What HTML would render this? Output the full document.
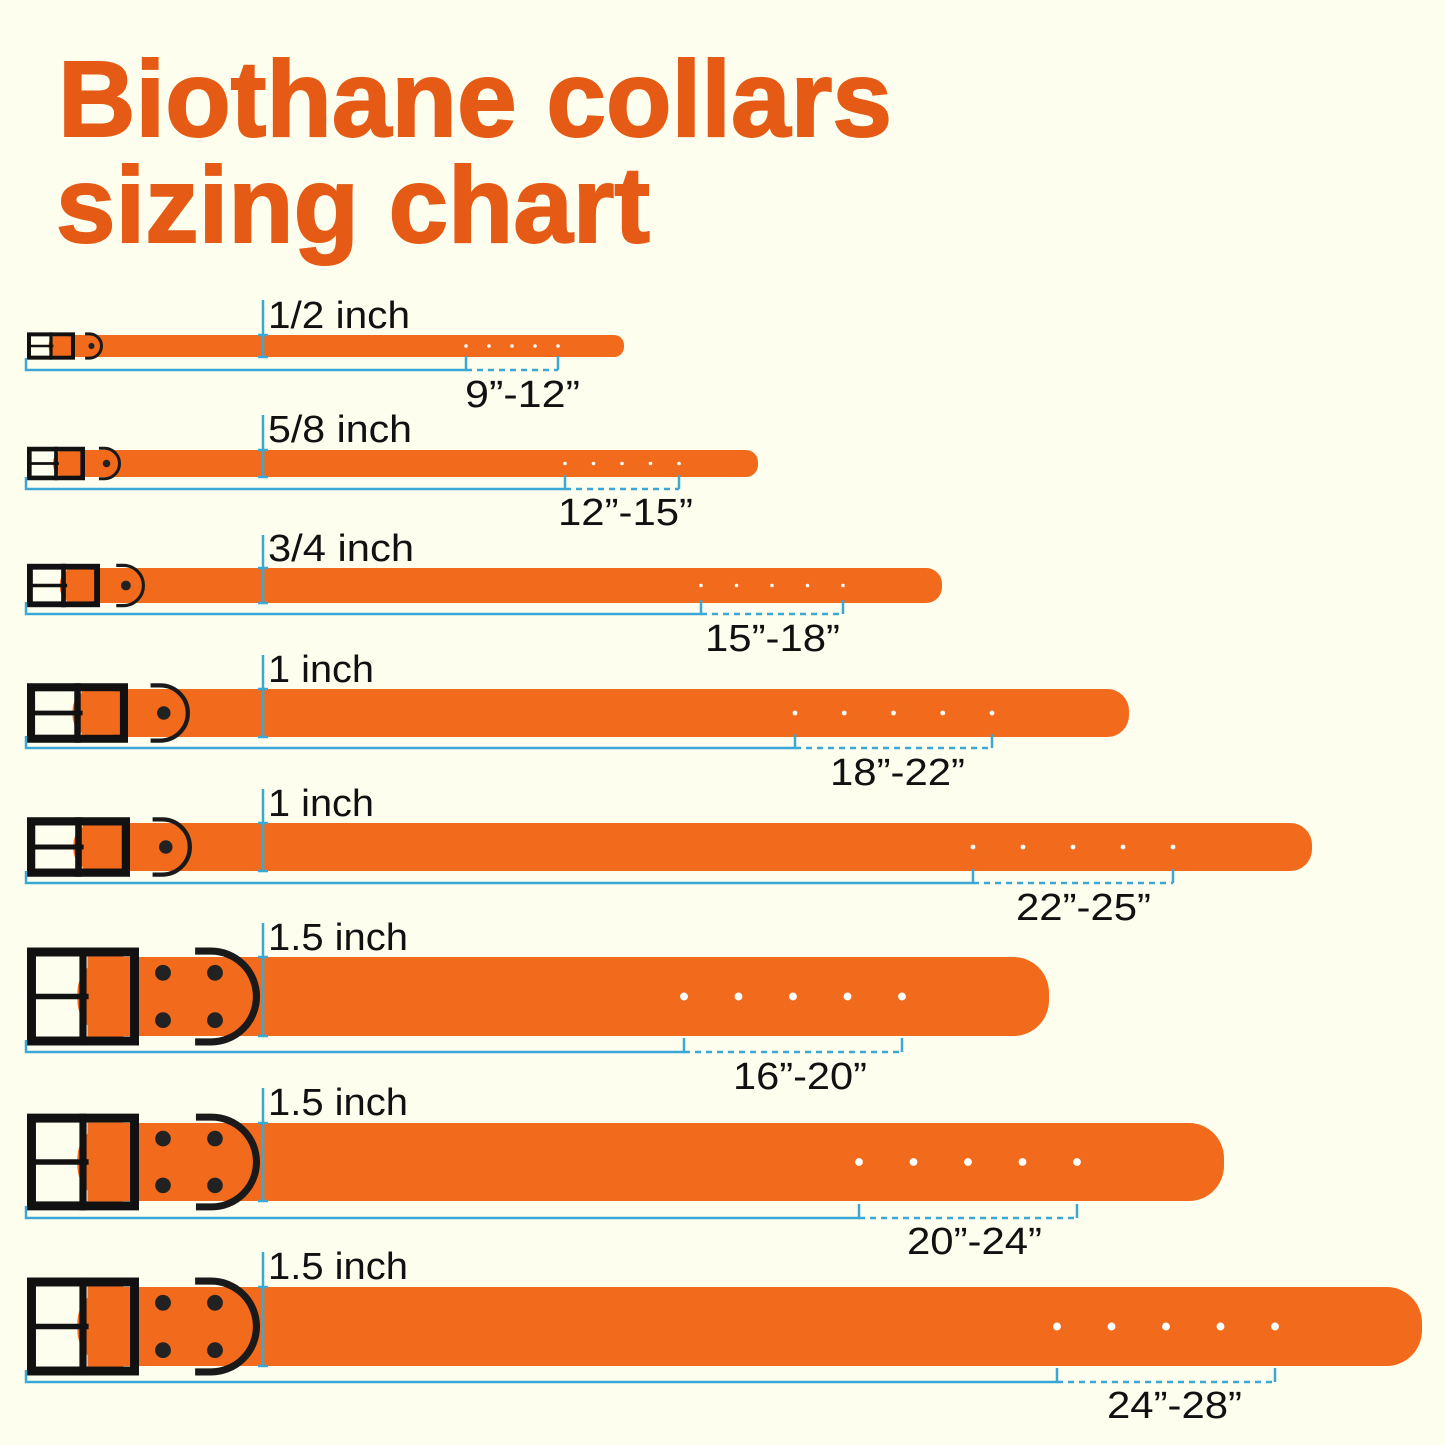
<!DOCTYPE html>
<html><head><meta charset="utf-8"><style>
html,body{margin:0;padding:0;background:#fdfeee;}
svg{display:block}
text{font-family:"Liberation Sans",sans-serif;}
</style></head><body>
<svg id="s" width="1445" height="1445" viewBox="0 0 1445 1445" xmlns="http://www.w3.org/2000/svg">
<rect width="1445" height="1445" fill="#fdfeee"/>
<g id="shapes"></g>
<g fill="#e55a15" font-weight="bold" font-size="108" stroke="#e55a15" stroke-width="2">
<text x="58" y="136" textLength="834" lengthAdjust="spacingAndGlyphs">Biothane collars</text>
<text x="56" y="242" textLength="594" lengthAdjust="spacingAndGlyphs">sizing chart</text>
</g>
<g fill="#111" font-size="38" lengthAdjust="spacingAndGlyphs">
<text x="268" y="328" textLength="142" lengthAdjust="spacingAndGlyphs">1/2 inch</text>
<text x="268" y="442" textLength="144" lengthAdjust="spacingAndGlyphs">5/8 inch</text>
<text x="268" y="561" textLength="146" lengthAdjust="spacingAndGlyphs">3/4 inch</text>
<text x="268" y="682" textLength="106" lengthAdjust="spacingAndGlyphs">1 inch</text>
<text x="268" y="816" textLength="106" lengthAdjust="spacingAndGlyphs">1 inch</text>
<text x="268" y="950" textLength="140" lengthAdjust="spacingAndGlyphs">1.5 inch</text>
<text x="268" y="1115" textLength="140" lengthAdjust="spacingAndGlyphs">1.5 inch</text>
<text x="268" y="1279" textLength="140" lengthAdjust="spacingAndGlyphs">1.5 inch</text>
</g>
<g fill="#111" font-size="38">
<text x="465" y="407" textLength="115" lengthAdjust="spacingAndGlyphs">9”-12”</text>
<text x="558" y="525" textLength="135" lengthAdjust="spacingAndGlyphs">12”-15”</text>
<text x="705" y="651" textLength="135" lengthAdjust="spacingAndGlyphs">15”-18”</text>
<text x="830" y="785" textLength="135" lengthAdjust="spacingAndGlyphs">18”-22”</text>
<text x="1016" y="920" textLength="135" lengthAdjust="spacingAndGlyphs">22”-25”</text>
<text x="733" y="1089" textLength="134" lengthAdjust="spacingAndGlyphs">16”-20”</text>
<text x="907" y="1254" textLength="135" lengthAdjust="spacingAndGlyphs">20”-24”</text>
<text x="1107" y="1418" textLength="135" lengthAdjust="spacingAndGlyphs">24”-28”</text>
</g>
</svg>
<script>
var C=[
 {t:335,b:357,e:624,bw:48,h0:466,h1:558,br:370,ly:300,rv:0,re:103},
 {t:450,b:477,e:758,bw:58,h0:565,h1:679,br:489,ly:415,rv:0,re:121},
 {t:568,b:603,e:942,bw:73,h0:701,h1:843,br:614,ly:535,rv:0,re:145},
 {t:689,b:737,e:1129,bw:101,h0:795,h1:992,br:748,ly:655,rv:0,re:190},
 {t:823,b:871,e:1312,bw:103,h0:973,h1:1173,br:883,ly:789,rv:0,re:192},
 {t:957,b:1036,e:1049,bw:112,h0:684,h1:902,br:1052,ly:923,rv:1,re:260},
 {t:1123,b:1201,e:1224,bw:112,h0:859,h1:1077,br:1218,ly:1088,rv:1,re:260},
 {t:1287,b:1366,e:1422,bw:112,h0:1057,h1:1275,br:1382,ly:1252,rv:1,re:260}
];
var g=document.getElementById('shapes'),h='';
var B='#3aa7d4',O='#f26a1c';
C.forEach(function(c){
 var hgt=c.b-c.t,r=hgt/2,pad=hgt*0.12,bt=c.t-pad,bb=c.b+pad,bx=27,bw=c.bw,cy=(c.t+c.b)/2;
 var sw=Math.max(3,hgt*0.09);
 h+='<rect x="'+(bx+bw*0.45)+'" y="'+c.t+'" width="'+(c.e-bx-bw*0.45)+'" height="'+hgt+'" rx="'+r*0.9+'" fill="'+O+'"/>';
 // D ring
 var R=(bb-bt)/2-sw/2, xs=c.re-sw/2-R;
 h+='<path d="M'+(xs-R*0.35)+' '+(cy-R)+' L'+xs+' '+(cy-R)+' A '+R+' '+R+' 0 0 1 '+xs+' '+(cy+R)+' L'+(xs-R*0.35)+' '+(cy+R)+'" fill="none" stroke="#1a1a1a" stroke-width="'+sw+'"/>';
 if(c.rv){[163,215].forEach(function(x){[0.2,0.8].forEach(function(v){h+='<circle cx="'+x+'" cy="'+(c.t+hgt*v)+'" r="'+(hgt*0.1)+'" fill="#222"/>';});});}
 else h+='<circle cx="'+(c.re-R*0.95)+'" cy="'+cy+'" r="'+(hgt*0.14)+'" fill="#222"/>';
 // buckle
 var fw=Math.max(4,bw*0.08);
 h+='<rect x="'+(bx+fw/2)+'" y="'+(bt+fw/2)+'" width="'+(bw-fw)+'" height="'+(bb-bt-fw)+'" fill="none" stroke="#111" stroke-width="'+fw+'"/>';
 h+='<line x1="'+(bx+bw*0.5)+'" y1="'+bt+'" x2="'+(bx+bw*0.5)+'" y2="'+bb+'" stroke="#111" stroke-width="'+(fw*0.8)+'"/>';
 h+='<rect x="'+(bx+bw*0.54)+'" y="'+(bt+fw)+'" width="'+(bw*0.32)+'" height="'+(bb-bt-2*fw)+'" fill="'+O+'"/>';
 h+='<line x1="'+bx+'" y1="'+cy+'" x2="'+(bx+bw*0.55)+'" y2="'+cy+'" stroke="#111" stroke-width="'+(fw*0.6)+'"/>';
 for(var i=0;i<5;i++){var x=c.h0+(c.h1-c.h0)*i/4;h+='<circle cx="'+x+'" cy="'+cy+'" r="'+Math.max(1.8,hgt*0.05)+'" fill="#fff"/>';}
 h+='<line x1="263" y1="'+c.ly+'" x2="263" y2="'+c.b+'" stroke="'+B+'" stroke-width="2.5"/>';
 h+='<line x1="258" y1="'+c.t+'" x2="268" y2="'+c.t+'" stroke="'+B+'" stroke-width="2.5"/><line x1="258" y1="'+c.b+'" x2="268" y2="'+c.b+'" stroke="'+B+'" stroke-width="2.5"/>';
 h+='<polyline points="26,'+(c.br-12)+' 26,'+c.br+' '+c.h0+','+c.br+' '+c.h0+','+(c.br-14)+'" fill="none" stroke="'+B+'" stroke-width="2.5"/>';
 h+='<line x1="'+c.h0+'" y1="'+c.br+'" x2="'+c.h1+'" y2="'+c.br+'" stroke="'+B+'" stroke-width="2.5" stroke-dasharray="6,5"/>';
 h+='<line x1="'+c.h1+'" y1="'+c.br+'" x2="'+c.h1+'" y2="'+(c.br-14)+'" stroke="'+B+'" stroke-width="2.5"/>';
});
g.innerHTML=h;
</script>
</body></html>
